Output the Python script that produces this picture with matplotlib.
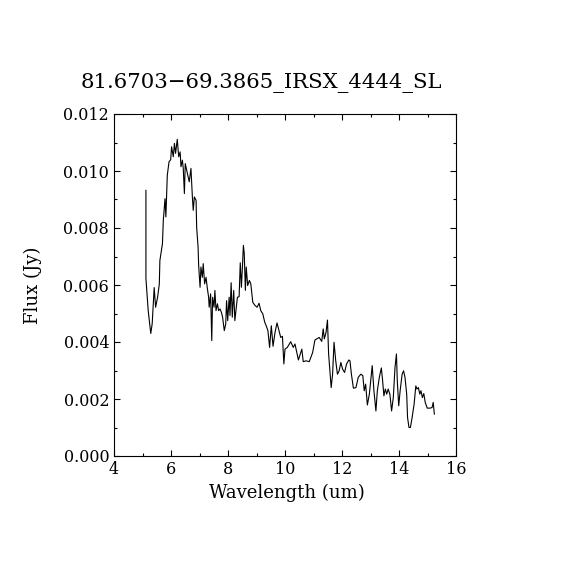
import numpy as np
import matplotlib
matplotlib.use("Agg")
import matplotlib.pyplot as plt
from matplotlib.ticker import MultipleLocator, FormatStrFormatter

# spectrum
wavelength = [5.12, 5.12, 5.20, 5.29, 5.34, 5.41, 5.46, 5.53, 5.59, 5.61,
              5.70, 5.73, 5.79, 5.82, 5.87, 5.93, 5.99, 6.02, 6.08, 6.12,
              6.16, 6.22, 6.27, 6.32, 6.35, 6.40, 6.43, 6.47, 6.50, 6.55,
              6.60, 6.64, 6.70, 6.75, 6.78, 6.82, 6.88, 6.90, 6.95, 6.97,
              7.02, 7.05, 7.10, 7.13, 7.18, 7.23, 7.27, 7.32, 7.34, 7.39,
              7.43, 7.46, 7.51, 7.54, 7.58, 7.63, 7.67, 7.72, 7.77, 7.81,
              7.87, 7.92, 7.95, 7.99, 8.04, 8.07, 8.11, 8.15, 8.20, 8.24,
              8.28, 8.33, 8.39, 8.43, 8.47, 8.50, 8.54, 8.57, 8.61, 8.64,
              8.69, 8.75, 8.80, 8.87, 8.95, 9.02, 9.09, 9.15, 9.22, 9.29,
              9.34, 9.40, 9.46, 9.52, 9.58, 9.65, 9.72, 9.79, 9.85, 9.91,
              9.96, 10.00, 10.08, 10.20, 10.29, 10.35, 10.47, 10.59, 10.64, 10.74,
              10.85, 10.97, 11.05, 11.20, 11.29, 11.34, 11.38, 11.44, 11.49, 11.53,
              11.58, 11.62, 11.67, 11.72, 11.78, 11.84, 11.90, 11.96, 12.02, 12.09,
              12.16, 12.24, 12.28, 12.33, 12.40, 12.49, 12.57, 12.66, 12.73, 12.78,
              12.83, 12.89, 12.96, 13.02, 13.06, 13.12, 13.19, 13.24, 13.31, 13.38,
              13.42, 13.47, 13.52, 13.57, 13.62, 13.68, 13.74, 13.80, 13.86, 13.91,
              13.94, 13.99, 14.04, 14.11, 14.16, 14.21, 14.27, 14.30, 14.35, 14.40,
              14.46, 14.53, 14.59, 14.63, 14.68, 14.73, 14.77, 14.82, 14.87, 14.92,
              14.99, 15.09, 15.16, 15.20, 15.24]
flux = [0.00932, 0.00623, 0.00510, 0.00430, 0.00464, 0.00591, 0.00522, 0.00557, 0.00604, 0.00686,
        0.00745, 0.00827, 0.00903, 0.00839, 0.00985, 0.01032, 0.01040, 0.01085, 0.01050, 0.01097,
        0.01062, 0.01111, 0.01050, 0.01067, 0.01015, 0.01038, 0.01009, 0.00921, 0.01026, 0.01003,
        0.00979, 0.00962, 0.01009, 0.00909, 0.00862, 0.00909, 0.00897, 0.00803, 0.00733, 0.00669,
        0.00592, 0.00663, 0.00627, 0.00675, 0.00604, 0.00627, 0.00592, 0.00557, 0.00522, 0.00569,
        0.00405, 0.00557, 0.00522, 0.00581, 0.00510, 0.00534, 0.00510, 0.00516, 0.00504, 0.00487,
        0.00440, 0.00463, 0.00545, 0.00475, 0.00557, 0.00493, 0.00608, 0.00487, 0.00581, 0.00475,
        0.00510, 0.00557, 0.00559, 0.00678, 0.00592, 0.00651, 0.00739, 0.00710, 0.00581, 0.00663,
        0.00598, 0.00616, 0.00604, 0.00539, 0.00528, 0.00522, 0.00536, 0.00510, 0.00499, 0.00469,
        0.00457, 0.00440, 0.00381, 0.00457, 0.00385, 0.00434, 0.00467, 0.00440, 0.00416, 0.00420,
        0.00323, 0.00375, 0.00381, 0.00401, 0.00381, 0.00393, 0.00337, 0.00375, 0.00331, 0.00334,
        0.00331, 0.00363, 0.00407, 0.00416, 0.00402, 0.00446, 0.00411, 0.00434, 0.00477, 0.00358,
        0.00293, 0.00240, 0.00287, 0.00399, 0.00334, 0.00287, 0.00299, 0.00328, 0.00305, 0.00293,
        0.00323, 0.00337, 0.00334, 0.00287, 0.00238, 0.00240, 0.00276, 0.00287, 0.00282, 0.00229,
        0.00252, 0.00179, 0.00217, 0.00276, 0.00317, 0.00229, 0.00158, 0.00229, 0.00276, 0.00309,
        0.00270, 0.00211, 0.00235, 0.00217, 0.00235, 0.00217, 0.00158, 0.00205, 0.00311, 0.00358,
        0.00264, 0.00176, 0.00229, 0.00287, 0.00299, 0.00276, 0.00217, 0.00135, 0.00100, 0.00100,
        0.00135, 0.00182, 0.00246, 0.00235, 0.00240, 0.00217, 0.00229, 0.00205, 0.00219, 0.00188,
        0.00168, 0.00168, 0.00170, 0.00188, 0.00147]

title = "81.6703\u221269.3865_IRSX_4444_SL"

plt.rcParams['font.family'] = ['DejaVu Serif']

fig = plt.figure(figsize=(5.7, 5.7), dpi=100)
ax = fig.add_axes([0.2, 0.2, 0.6, 0.6])
ax.plot(wavelength, flux, color="black", linewidth=0.8)

ax.set_xlim(4, 16)
ax.set_ylim(0, 0.012)
ax.xaxis.set_major_locator(MultipleLocator(2))
ax.xaxis.set_minor_locator(MultipleLocator(1))
ax.yaxis.set_major_locator(MultipleLocator(0.002))
ax.yaxis.set_minor_locator(MultipleLocator(0.001))
ax.yaxis.set_major_formatter(FormatStrFormatter("%.3f"))
ax.tick_params(which="both", direction="in", top=True, right=True, labelsize=11.5, width=0.8)
ax.tick_params(which="major", length=4)
ax.tick_params(which="minor", length=2)
for s in ax.spines.values():
    s.set_linewidth(0.8)

ax.set_xlabel("Wavelength (um)", fontsize=13)
ax.set_ylabel("Flux (Jy)", fontsize=13)
ax.xaxis.set_label_coords(0.505, -0.082)
ax.yaxis.set_label_coords(-0.21, 0.5)
fig.text(0.459, 0.855, title, fontsize=15.3, ha="center", va="center")

fig.savefig("out.png", dpi=100, facecolor="white")
